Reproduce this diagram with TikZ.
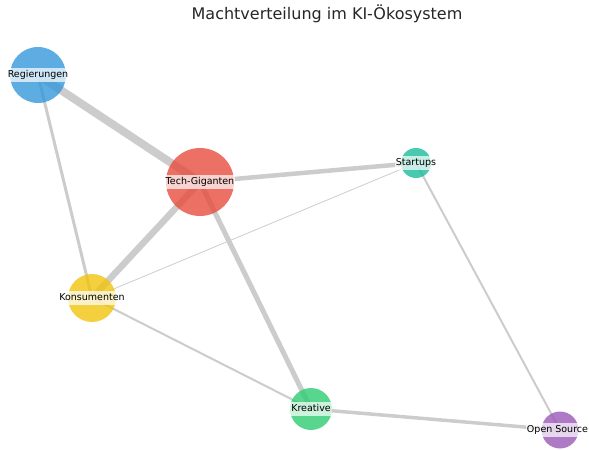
\documentclass[tikz,border=0pt]{standalone}
\usepackage{fontspec}
\setmainfont{DejaVu Sans}
\usepackage{tikz}

\definecolor{cReg}{HTML}{3498DB}
\definecolor{cTech}{HTML}{E74C3C}
\definecolor{cStart}{HTML}{1ABC9C}
\definecolor{cKons}{HTML}{F1C40F}
\definecolor{cKrea}{HTML}{2ECC71}
\definecolor{cOpen}{HTML}{9B59B6}
\definecolor{edgegray}{HTML}{CCCCCC}

\pgfdeclarelayer{bg}
\pgfsetlayers{bg,main}

\begin{document}
\begin{tikzpicture}[x=1bp, y=-1bp,
  actor/.style={circle, inner sep=0pt, fill opacity=0.8, minimum size=#1},
  tag/.style={fill=white, fill opacity=0.7, text opacity=1, inner xsep=1.2bp, inner ysep=2bp,
    text height=7.2bp, text depth=2.2bp, font=\fontsize{9.5bp}{11bp}\selectfont},
  link/.style={edgegray, line width=#1}]
\useasboundingbox (0,0) rectangle (589,450);
\node [font=\fontsize{16bp}{20bp}\selectfont, text=black!85] (title) at (327,14) {Machtverteilung im KI-Ökosystem};

\node [actor=56bp, fill=cReg] (reg) at (38,75) {};
\node [actor=68bp, fill=cTech] (tech) at (200,182) {};
\node [actor=30bp, fill=cStart] (start) at (416,163) {};
\node [actor=48bp, fill=cKons] (kons) at (92,298) {};
\node [actor=42bp, fill=cKrea] (krea) at (311,409) {};
\node [actor=37bp, fill=cOpen] (open) at (560,430) {};

\node [tag] (regl) at (reg) {Regierungen};
\node [tag] (techl) at (tech) {Tech-Giganten};
\node [tag] (startl) at (start) {Startups};
\node [tag] (konsl) at (kons) {Konsumenten};
\node [tag] (kreal) at (krea) {Kreative};
\node [tag, inner xsep=0.5bp] (openl) at ([xshift=-2.5bp]open.center) {Open Source};

\begin{pgfonlayer}{bg}
\draw [link=8bp] (reg.center) -- (tech.center);
\draw [link=3bp] (reg.center) -- (kons.center);
\draw [link=4.5bp] (tech.center) -- (start.center);
\draw [link=6.5bp] (tech.center) -- (kons.center);
\draw [link=5bp] (tech.center) -- (krea.center);
\draw [link=0.8bp] (start.center) -- (kons.center);
\draw [link=2bp] (start.center) -- (open.center);
\draw [link=2bp] (kons.center) -- (krea.center);
\draw [link=3.5bp] (krea.center) -- (open.center);
\end{pgfonlayer}
\end{tikzpicture}
\end{document}
